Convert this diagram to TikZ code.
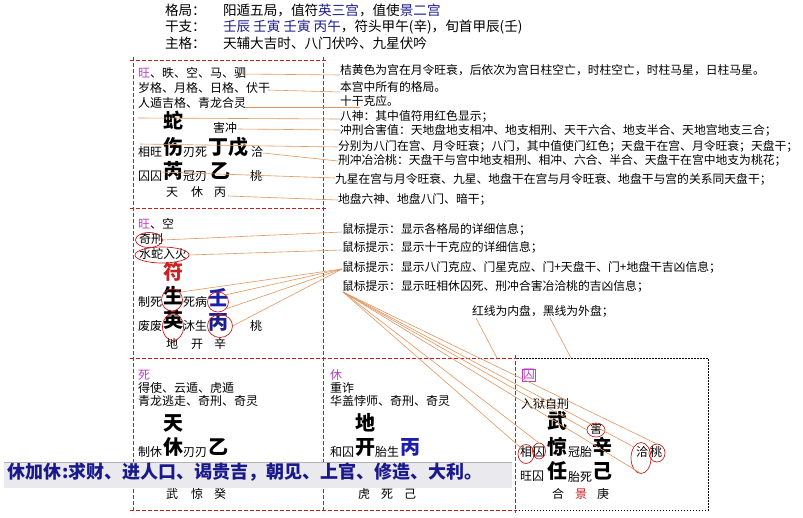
\documentclass[tikz,border=0pt]{standalone}
\usepackage{fontspec}
\newfontfamily\cjk{Noto Sans CJK SC}
\usetikzlibrary{calc,shapes.geometric}
\definecolor{oline}{RGB}{226,150,96}
\definecolor{rdash}{RGB}{200,30,30}
\definecolor{purp}{RGB}{190,60,200}
\definecolor{navy}{RGB}{30,30,140}
\definecolor{bigred}{RGB}{200,35,35}
\definecolor{bigblue}{RGB}{30,30,170}
\definecolor{bannerbg}{RGB}{234,234,238}
\definecolor{bannertx}{RGB}{25,25,140}
\begin{document}
\begin{tikzpicture}[x=1pt,y=-1pt,
  every node/.style={inner sep=0pt,outer sep=0pt,anchor=west},
  hdr/.style={font=\cjk\fontsize{13.6}{14}\selectfont,text height=.88em,text depth=.12em},
  sm/.style={font=\cjk\fontsize{12}{13}\selectfont,text height=.88em,text depth=.12em},
  note/.style={font=\cjk\fontsize{11.8}{13}\selectfont,text height=.88em,text depth=.12em},
  big/.style={font=\cjk\bfseries\fontsize{20}{22}\selectfont,text height=.88em,text depth=.12em},
  ban/.style={font=\cjk\bfseries\fontsize{18}{20}\selectfont,text height=.88em,text depth=.12em,text=bannertx},
  ol/.style={draw=oline,line width=0.6pt},
  rl/.style={draw=rdash,line width=0.7pt,dash pattern=on 4pt off 2pt},
  bl/.style={draw=black,line width=0.6pt,dash pattern=on 1.5pt off 1.5pt},
  circ/.style={draw=rdash,line width=0.7pt,ellipse,anchor=center},
]
\useasboundingbox (0,0) rectangle (803,517);
\fill[white] (0,0) rectangle (803,517);

% grid
\draw[rl] (130,60) -- (326,60);
\draw[rl] (130,208) -- (326,208);
\draw[rl] (130,358) -- (517,358);
\draw[rl] (130,510) -- (517,510);
\draw[rl] (133,57) -- (133,513);
\draw[rl] (323,57) -- (323,513);
\draw[rl] (515,355) -- (515,513);
\draw[bl] (517,358) -- (708,358) -- (708,510) -- (517,510);

% header
\node[hdr] (h1a) at (165,12) {格局：};
\node[hdr] (h1b) at (223,12) {阳遁五局，值符{\color{navy}英三宫}，值使{\color{navy}景二宫}};
\node[hdr] (h2a) at (165,28) {干支：};
\node[hdr] (h2b) at (223,28) {{\color{navy}壬辰 壬寅 壬寅 丙午}，符头甲午(辛)，旬首甲辰(壬)};
\node[hdr] (h3a) at (165,45) {主格：};
\node[hdr] (h3b) at (223,45) {天辅大吉时、八门伏吟、九星伏吟};

% top-left palace
\node[sm] (tl1) at (138,74) {{\color{purp}旺}、昳、空、马、驷};
\node[sm] (tl2) at (138,89) {岁格、月格、日格、伏干};
\node[sm] (tl3) at (138,104) {人遁吉格、青龙合灵};
\node[big] (tl4) at (163,125) {蛇};
\node[sm] (tl5) at (213,129) {害冲};
\node[sm] (tl6) at (138,153) {相旺};
\node[big] (tl7) at (163,151) {伤};
\node[sm] (tl8) at (183,153) {刃死};
\node[big] (tl9) at (208,151) {丁戊};
\node[sm] (tl10) at (251,153) {洽};
\node[sm] (tl11) at (138,177) {囚囚};
\node[big] (tl12) at (163,175) {芮};
\node[sm] (tl13) at (183,177) {冠刃};
\node[big] (tl14) at (210,175) {乙};
\node[sm] (tl15) at (250,177) {桃};
\node[sm] (tl16) at (166,193) {天};
\node[sm] (tl17) at (191,193) {休};
\node[sm] (tl18) at (214,193) {丙};

% middle-left palace
\node[sm] (ml1) at (138,225) {{\color{purp}旺}、空};
\node[sm] (ml2) at (139,240) {奇刑};
\node[sm] (ml3) at (139,255) {水蛇入火};
\node[big,text=bigred] (ml4) at (163,276) {符};
\node[sm] (ml5) at (138,303) {制死};
\node[big] (ml6) at (163,300) {生};
\node[sm] (ml7) at (183,303) {死病};
\node[big,text=bigblue] (ml8) at (208,302) {壬};
\node[sm] (ml9) at (138,327) {废废};
\node[big] (ml10) at (163,324) {英};
\node[sm] (ml11) at (183,327) {沐生};
\node[big,text=navy] (ml12) at (208,326) {丙};
\node[sm] (ml13) at (250,327) {桃};
\node[sm] (ml14) at (166,345) {地};
\node[sm] (ml15) at (191,345) {开};
\node[sm] (ml16) at (214,345) {辛};

% bottom-left palace
\node[sm,text=purp] (bl1) at (138,376) {死};
\node[sm] (bl2) at (138,389) {得使、云遁、虎遁};
\node[sm] (bl3) at (138,402) {青龙逃走、奇刑、奇灵};
\node[big] (bl4) at (163,427) {天};
\node[sm] (bl5) at (138,453) {制休};
\node[big] (bl6) at (163,451) {休};
\node[sm] (bl7) at (183,453) {刃刃};
\node[big] (bl8) at (208,451) {乙};
\node[sm] (bl9) at (166,495) {武};
\node[sm] (bl10) at (191,495) {惊};
\node[sm] (bl11) at (214,495) {癸};

% bottom-middle palace
\node[sm,text=purp] (bm1) at (330,376) {休};
\node[sm] (bm2) at (330,389) {重诈};
\node[sm] (bm3) at (330,402) {华盖悖师、奇刑、奇灵};
\node[big] (bm4) at (355,427) {地};
\node[sm] (bm5) at (330,453) {和囚};
\node[big] (bm6) at (355,451) {开};
\node[sm] (bm7) at (375,453) {胎生};
\node[big,text=bigblue] (bm8) at (400,451) {丙};
\node[sm] (bm9) at (358,495) {虎};
\node[sm] (bm10) at (381,495) {死};
\node[sm] (bm11) at (404,495) {己};

% bottom-right palace
\node[sm,text=purp,draw=purp,inner sep=0.8pt,line width=0.6pt] (br1) at (522,375) {囚};
\node[sm] (br2) at (521,405) {入狱自刑};
\node[big] (br3) at (547,425) {武};
\node[sm] (br4) at (590,430) {害};
\node[sm] (br5) at (520,453) {相};
\node[sm] (br6) at (533,453) {囚};
\node[big] (br7) at (547,451) {惊};
\node[sm] (br8) at (568,453) {冠胎};
\node[big] (br9) at (592,451) {辛};
\node[sm] (br10) at (636,453) {洽};
\node[sm] (br11) at (650,453) {桃};
\node[sm] (br12) at (520,477) {旺囚};
\node[big] (br13) at (547,475) {任};
\node[sm] (br14) at (568,478) {胎死};
\node[big] (br15) at (592,475) {己};
\node[sm] (br16) at (552,495) {合};
\node[sm,text=bigred] (br17) at (575,495) {景};
\node[sm] (br18) at (597,495) {庚};

% annotations
\node[note] (a1) at (340,71) {桔黄色为宫在月令旺衰，后依次为宫日柱空亡，时柱空亡，时柱马星，日柱马星。};
\node[note] (a2) at (340,88) {本宫中所有的格局。};
\node[note] (a3) at (340,102) {十干克应。};
\node[note] (a4) at (340,117) {八神：其中值符用红色显示；};
\node[note] (a5) at (340,131) {冲刑合害值：天地盘地支相冲、地支相刑、天干六合、地支半合、天地宫地支三合；};
\node[note] (a6) at (338,147) {分别为八门在宫、月令旺衰；八门，其中值使门红色；天盘干在宫、月令旺衰；天盘干；};
\node[note] (a7) at (338,161) {刑冲冶洽桃：天盘干与宫中地支相刑、相冲、六合、半合、天盘干在宫中地支为桃花；};
\node[note] (a8) at (335,180) {九星在宫与月令旺衰、九星、地盘干在宫与月令旺衰、地盘干与宫的关系同天盘干；};
\node[note] (a9) at (338,200) {地盘六神、地盘八门、暗干；};
\node[note] (a10) at (342,230) {鼠标提示：显示各格局的详细信息；};
\node[note] (a11) at (342,248) {鼠标提示：显示十干克应的详细信息；};
\node[note] (a12) at (342,268) {鼠标提示：显示八门克应、门星克应、门+天盘干、门+地盘干吉凶信息；};
\node[note] (a13) at (342,287) {鼠标提示：显示旺相休囚死、刑冲合害冶洽桃的吉凶信息；};
\node[note] (a14) at (472,312) {红线为内盘，黑线为外盘；};

% red circles
\node[circ,minimum width=27pt,minimum height=15pt] (c1) at (149,240) {};
\node[circ,minimum width=54pt,minimum height=16pt] (c2) at (162,255) {};
\node[circ,minimum width=21pt,minimum height=22pt] (c3) at (172,300) {};
\node[circ,minimum width=21pt,minimum height=20pt] (c4) at (218,302) {};
\node[circ,minimum width=21pt,minimum height=27pt] (c5) at (173,327) {};
\node[circ,minimum width=25pt,minimum height=23pt] (c6) at (220,326) {};
\node[circ,minimum width=18pt,minimum height=14pt] (c7) at (596,430) {};
\node[circ,minimum width=16pt,minimum height=19pt] (c8) at (526,454) {};
\node[circ,minimum width=13pt,minimum height=16pt] (c9) at (539,451) {};
\node[circ,minimum width=20pt,minimum height=31pt] (c10) at (641,458) {};
\node[circ,minimum width=16pt,minimum height=18pt] (c11) at (657,453) {};

% orange connectors, top-left palace
\coordinate (p1) at (242,74);
\coordinate (p2) at (268,90);
\coordinate (p3) at (245,107);
\coordinate (p4) at (138,118);
\coordinate (p5) at (238,129);
\coordinate (p6) at (140,144);
\coordinate (p7) at (263,153);
\coordinate (p8) at (160,172);
\coordinate (p9) at (228,196);
\draw[ol] (p1) -- ($(a1.west)+(0,4)$);
\draw[ol] (p2) -- ($(a2.west)+(0,4)$);
\draw[ol] (p3) -- ($(a3.west)+(20,5)$);
\draw[ol] (p4) -- ($(a4.west)+(0,2)$);
\draw[ol] (p5) -- ($(a5.west)+(0,-1)$);
\draw[ol] (p6) -- ($(a6.west)+(0,0)$);
\draw[ol] (p7) -- ($(a7.west)+(0,0)$);
\draw[ol] (p8) -- ($(a8.west)+(0,-2)$);
\draw[ol] (p9) -- ($(a9.west)+(0,0)$);

% middle-left palace
\draw[ol] (c1.east) -- ($(a10.west)+(0,2)$);
\draw[ol] (c2.east) -- ($(a11.west)+(0,2)$);
\coordinate (fan12) at ($(a12.west)+(0,1)$);
\draw[ol] (c3.north east) -- (fan12);
\draw[ol] (c4.north east) -- (fan12);
\draw[ol] (c4.south east) -- (fan12);
\draw[ol] (c6.east) -- (fan12);

% bottom-right palace fan
\coordinate (fan13) at ($(a13.west)+(1,5)$);
\draw[ol] (fan13) -- (c8.north west);
\draw[ol] (fan13) -- (c9.north);
\draw[ol] (fan13) -- (c7.west);
\draw[ol] (fan13) -- (c10.north west);
\draw[ol] (fan13) -- (c10.south);
\draw[ol] (fan13) -- (c11.north);

% inner / outer plate pointers
\coordinate (rp) at (497,358);
\coordinate (kp) at (571,358);
\draw[ol] ($(a14.west)+(4,6)$) -- (rp);
\draw[ol] ($(a14.west)+(78,6)$) -- (kp);

% banner
\fill[bannerbg] (4,462) rectangle (512,488);
\draw[gray!60,line width=0.6pt] (4,462) -- (512,462);
\node[ban] (bn) at (8,475) {休加休:求财、进人口、谒贵吉，朝见、上官、修造、大利。};
\end{tikzpicture}
\end{document}
